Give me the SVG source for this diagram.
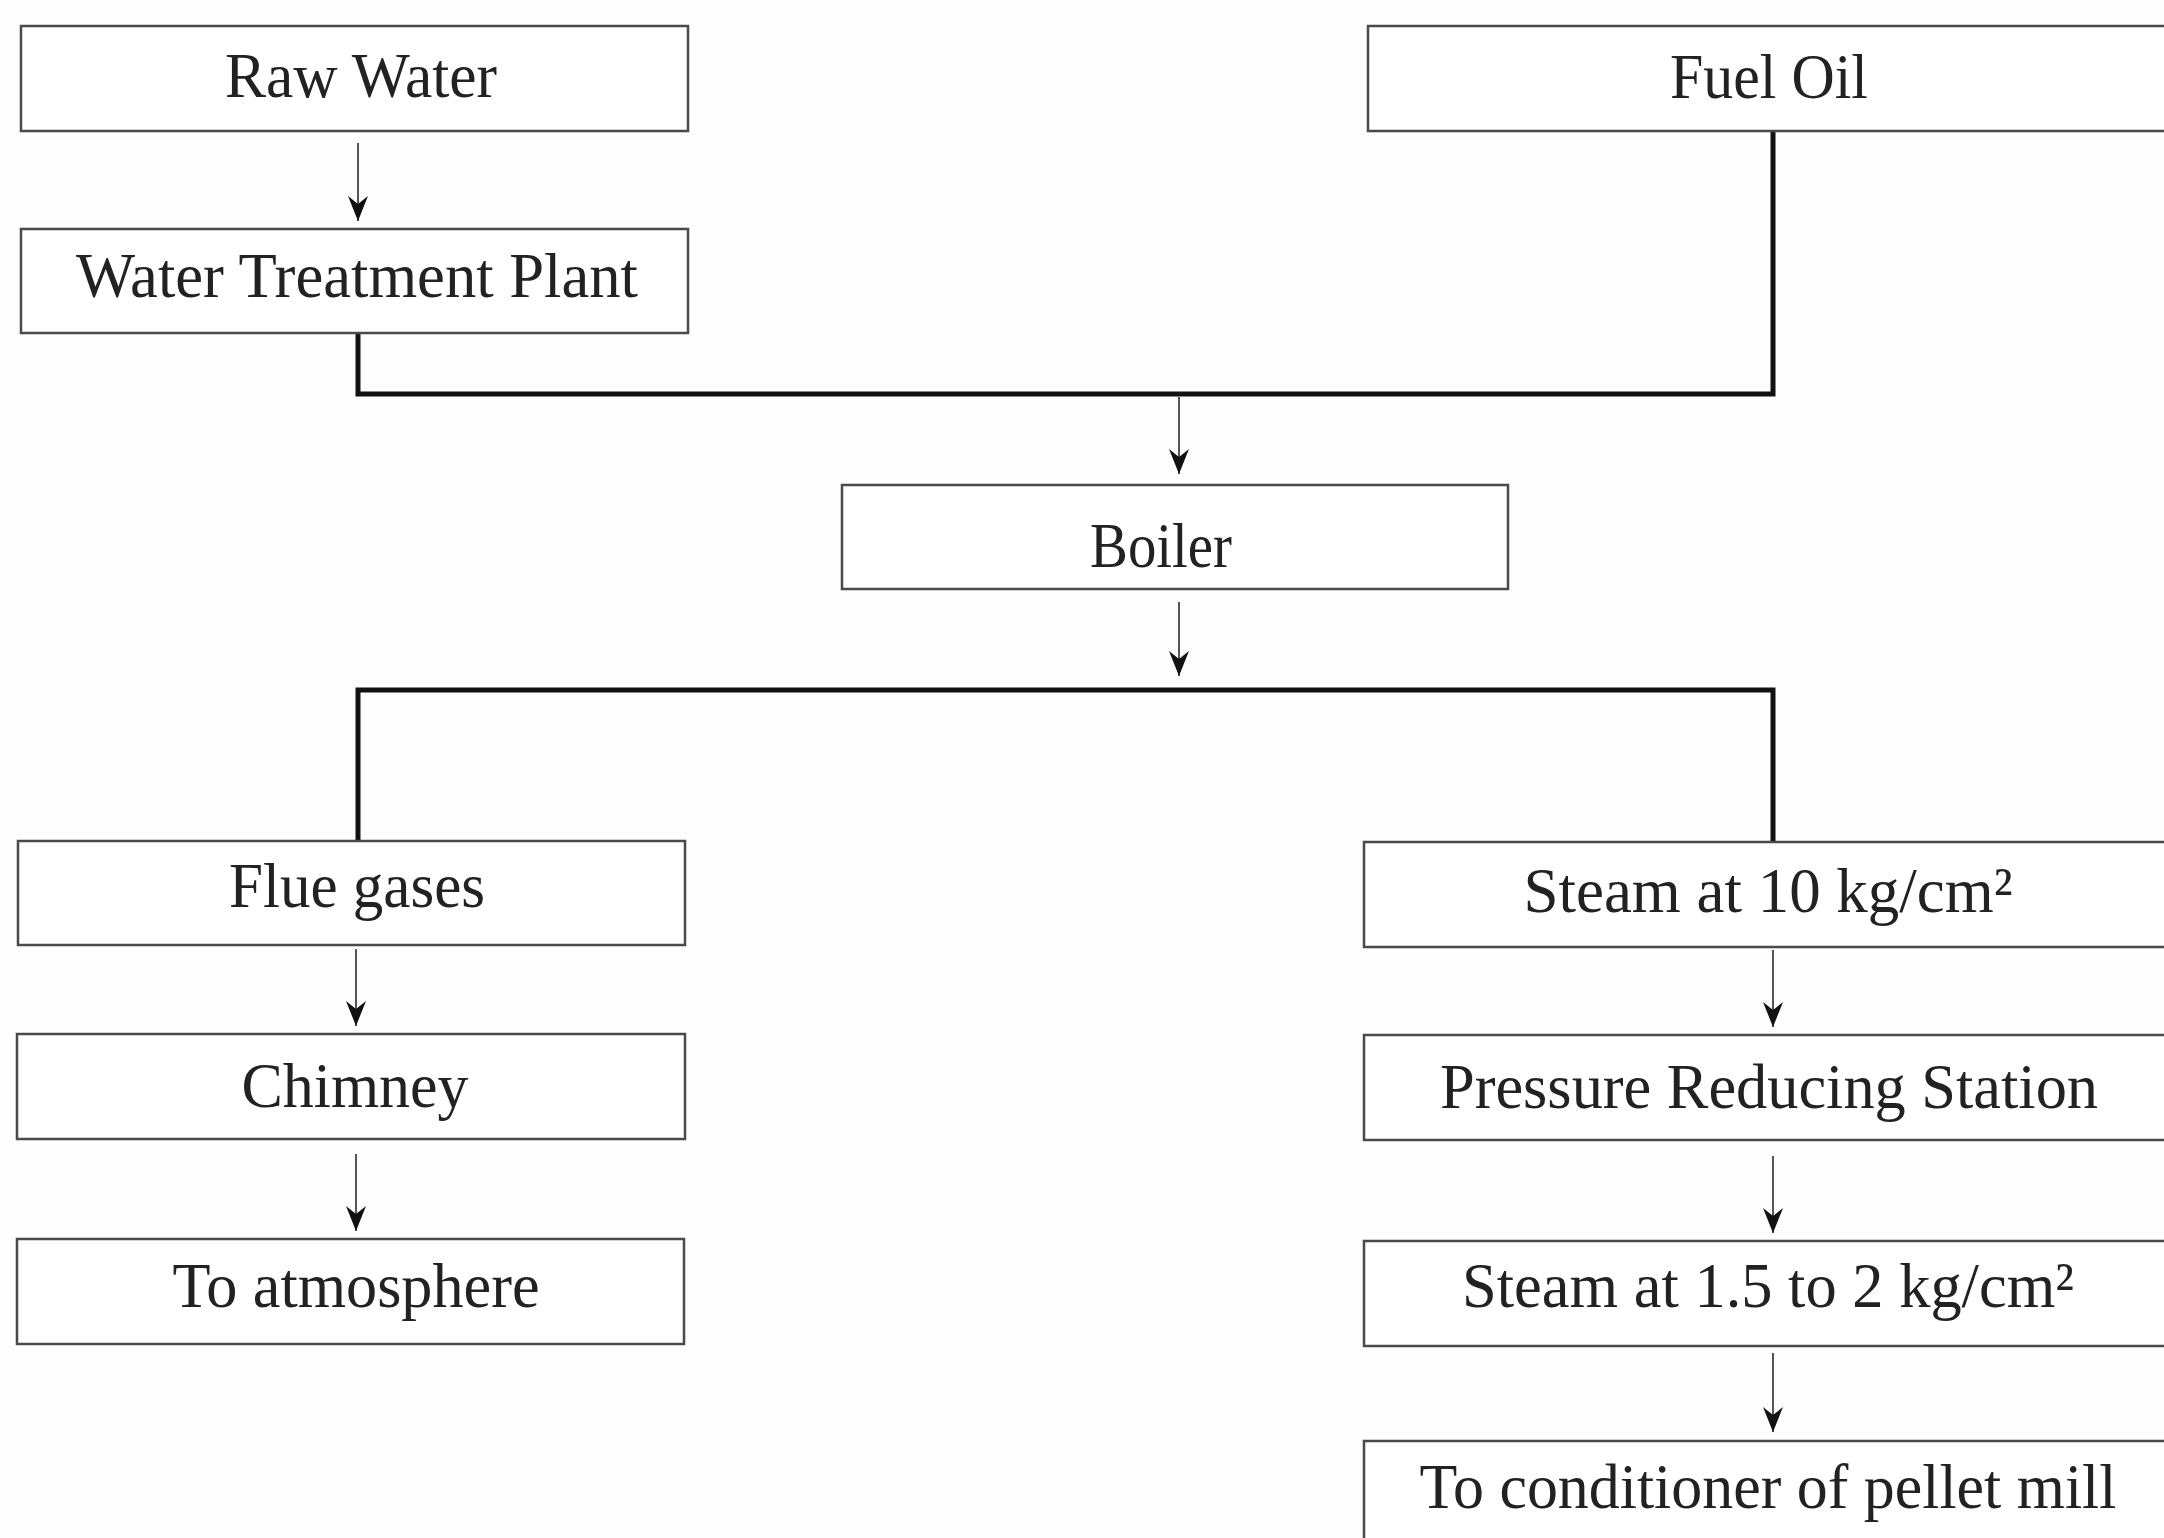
<svg xmlns="http://www.w3.org/2000/svg" width="2164" height="1538" viewBox="0 0 2164 1538">
  <style>
    .box { fill: #ffffff; stroke: #4a4a4a; stroke-width: 2.5; }
    .lbl { font-family: "Liberation Serif", "Times New Roman", serif; font-size: 64px; fill: #222222; text-anchor: middle; }
    .flow { fill: none; stroke: #555555; stroke-width: 2; }
    .trunk { fill: none; stroke: #111111; stroke-width: 5; stroke-linejoin: miter; }
  </style>
  <defs>
    <marker id="head" markerUnits="userSpaceOnUse" viewBox="-26 -11 28 22" refX="0" refY="0" markerWidth="28" markerHeight="22" orient="auto">
      <path d="M0,0 L-25,-10 L-17,0 L-25,10 Z" fill="#111111"/>
    </marker>
  </defs>

  <rect width="2164" height="1538" fill="#fdfdfd"/>

  <!-- connectors -->
  <g id="connectors">
    <path class="trunk" d="M358,333 V394 H1773 V131"/>
    <path class="trunk" d="M358,841 V690 H1773 V842"/>
    <path class="flow" d="M358,143 V221" marker-end="url(#head)"/>
    <path class="flow" d="M1179,397 V474" marker-end="url(#head)"/>
    <path class="flow" d="M1179,602 V676" marker-end="url(#head)"/>
    <path class="flow" d="M356,949 V1026" marker-end="url(#head)"/>
    <path class="flow" d="M356,1154 V1231" marker-end="url(#head)"/>
    <path class="flow" d="M1773,950 V1027" marker-end="url(#head)"/>
    <path class="flow" d="M1773,1156 V1233" marker-end="url(#head)"/>
    <path class="flow" d="M1773,1353 V1432" marker-end="url(#head)"/>
  </g>

  <!-- nodes -->
  <g id="raw-water">
    <rect class="box" x="21" y="26" width="667" height="105"/>
    <text class="lbl" x="361" y="97" textLength="272" lengthAdjust="spacingAndGlyphs">Raw Water</text>
  </g>
  <g id="water-treatment-plant">
    <rect class="box" x="21" y="229" width="667" height="104"/>
    <text class="lbl" x="357" y="297" textLength="562" lengthAdjust="spacingAndGlyphs">Water Treatment Plant</text>
  </g>
  <g id="fuel-oil">
    <rect class="box" x="1368" y="26" width="812" height="105"/>
    <text class="lbl" x="1769" y="98" textLength="198" lengthAdjust="spacingAndGlyphs">Fuel Oil</text>
  </g>
  <g id="boiler">
    <rect class="box" x="842" y="485" width="666" height="104"/>
    <text class="lbl" x="1161" y="567" textLength="142" lengthAdjust="spacingAndGlyphs">Boiler</text>
  </g>
  <g id="flue-gases">
    <rect class="box" x="18" y="841" width="667" height="104"/>
    <text class="lbl" x="357" y="907" textLength="256" lengthAdjust="spacingAndGlyphs">Flue gases</text>
  </g>
  <g id="chimney">
    <rect class="box" x="17" y="1034" width="668" height="105"/>
    <text class="lbl" x="355" y="1107" textLength="227" lengthAdjust="spacingAndGlyphs">Chimney</text>
  </g>
  <g id="to-atmosphere">
    <rect class="box" x="17" y="1239" width="667" height="105"/>
    <text class="lbl" x="356" y="1307" textLength="367" lengthAdjust="spacingAndGlyphs">To atmosphere</text>
  </g>
  <g id="steam-10">
    <rect class="box" x="1364" y="842" width="816" height="105"/>
    <text class="lbl" x="1768" y="912" textLength="489" lengthAdjust="spacingAndGlyphs">Steam at 10 kg/cm²</text>
  </g>
  <g id="pressure-reducing-station">
    <rect class="box" x="1364" y="1035" width="816" height="105"/>
    <text class="lbl" x="1769" y="1108" textLength="658" lengthAdjust="spacingAndGlyphs">Pressure Reducing Station</text>
  </g>
  <g id="steam-low">
    <rect class="box" x="1364" y="1241" width="816" height="105"/>
    <text class="lbl" x="1768" y="1307" textLength="612" lengthAdjust="spacingAndGlyphs">Steam at 1.5 to 2 kg/cm²</text>
  </g>
  <g id="pellet-mill-conditioner">
    <rect class="box" x="1364" y="1441" width="816" height="120"/>
    <text class="lbl" x="1768" y="1508" textLength="697" lengthAdjust="spacingAndGlyphs">To conditioner of pellet mill</text>
  </g>
</svg>
